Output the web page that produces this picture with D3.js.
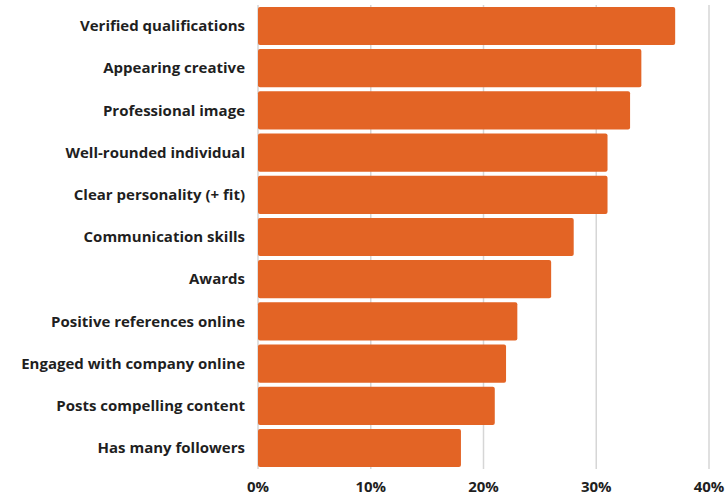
<!DOCTYPE html>
<html><head><meta charset="utf-8">
<script src="https://cdn.jsdelivr.net/npm/d3@7"></script>
<style>body{margin:0;background:#fff}text{font-family:"Open Sans",sans-serif;font-weight:bold;fill:#1f1f1f}</style>
</head><body>
<svg id="c" width="726" height="495"></svg>
<script>
const categories = ["Verified qualifications","Appearing creative","Professional image","Well-rounded individual","Clear personality (+ fit)","Communication skills","Awards","Positive references online","Engaged with company online","Posts compelling content","Has many followers"];
const values = [37,34,33,31,31,28,26,23,22,21,18];
const ticks = [0,10,20,30,40];

const svg = d3.select("#c");
const x = d3.scaleLinear().domain([0,40]).range([258,709]);
const y = d3.scaleBand().domain(categories).range([5,469]).paddingInner(0.095).paddingOuter(0.045);

svg.append("g").selectAll("line").data(ticks).join("line")
  .attr("x1",d=>x(d)).attr("x2",d=>x(d)).attr("y1",5).attr("y2",469)
  .attr("stroke","#d6d6d6").attr("stroke-width",1.5);

svg.append("g").selectAll("rect").data(values).join("rect")
  .attr("x",x(0)).attr("y",(d,i)=>y(categories[i]))
  .attr("width",d=>x(d)-x(0)).attr("height",y.bandwidth())
  .attr("rx",2).attr("fill","#E36425");

svg.append("g").selectAll("text").data(categories).join("text")
  .attr("x",245).attr("y",d=>y(d)+y.bandwidth()/2).attr("dy","0.35em")
  .attr("text-anchor","end").attr("font-size",15).text(d=>d);

svg.append("g").selectAll("text").data(ticks).join("text")
  .attr("x",d=>x(d)).attr("y",487).attr("dy","0.35em")
  .attr("text-anchor","middle").attr("font-size",15).text(d=>d+"%");
</script>
</body></html>
